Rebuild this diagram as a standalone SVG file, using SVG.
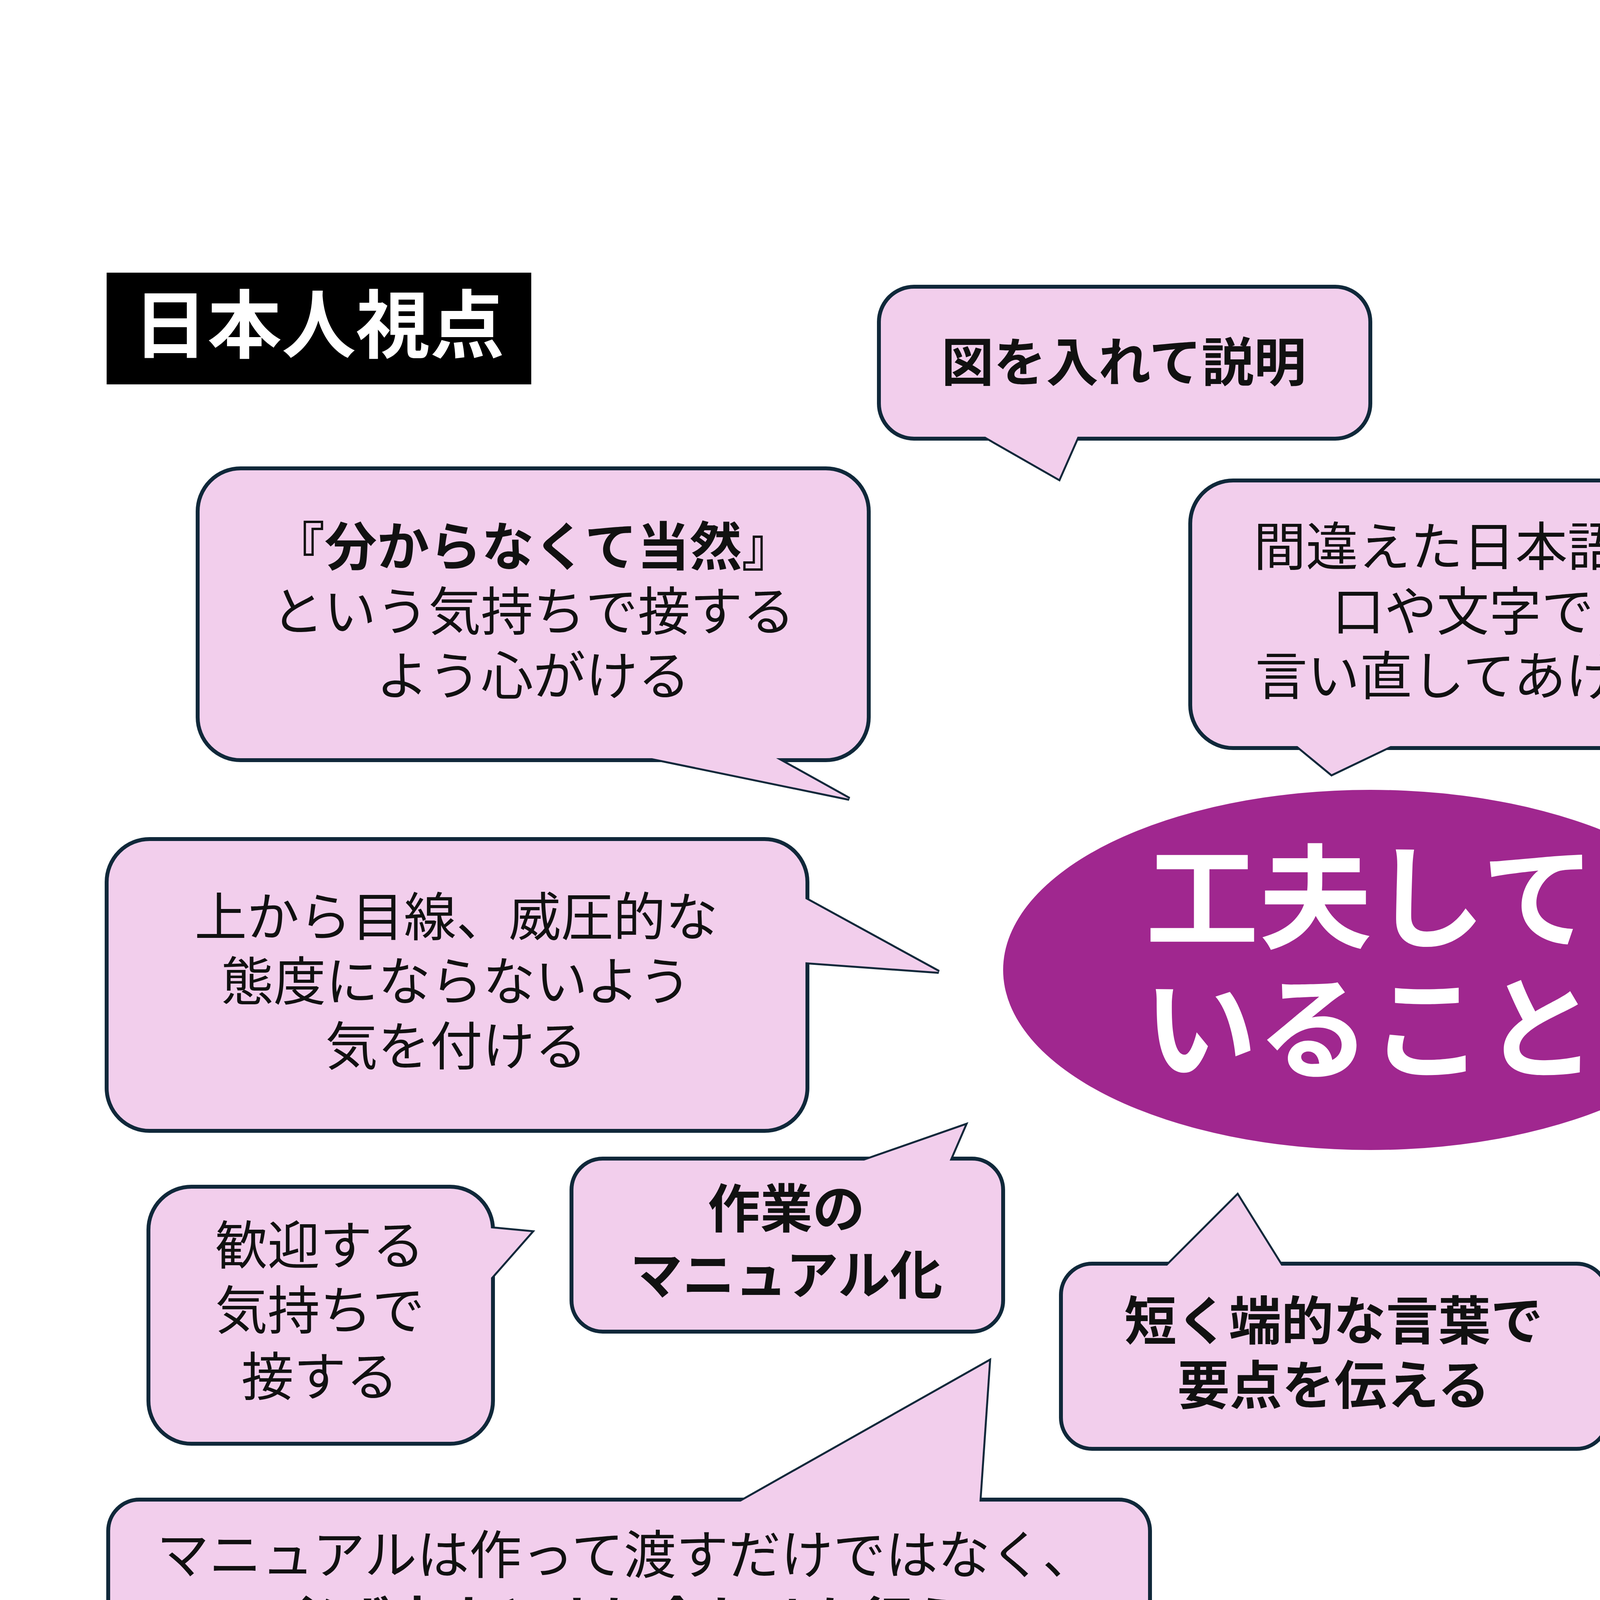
<svg xmlns="http://www.w3.org/2000/svg" width="7015" height="4960" viewBox="0 0 7015 4960">
<style>
.b{fill:#F2CEEC;stroke:#10283A;stroke-width:10}
.t{fill:#F2CEEC;stroke:#10283A;stroke-width:10;stroke-linejoin:miter}
.f{fill:#F2CEEC;stroke:none}
text{font-family:"Noto Sans CJK JP","Noto Sans",sans-serif;fill:#111;text-anchor:middle}
.n{font-size:134px}
.bd{font-size:134px;font-weight:bold}
</style>
<rect width="7015" height="4960" fill="#fff"/>
<g id="title"><rect x="273" y="698" width="1087" height="286" fill="#000"/><text x="816" y="901" style="font-size:190px;font-weight:bold;fill:#fff">日本人視点</text></g>
<g id="center"><ellipse cx="3508" cy="2483" rx="940" ry="461" fill="#A0278F"/><text x="3508" y="2405" style="font-size:290px;font-weight:bold;fill:#fff">工夫して</text><text x="3508" y="2740" style="font-size:290px;font-weight:bold;fill:#fff">いること</text></g>
<g id="zu"><polygon class="t" points="2461,1083 2711,1226 2774,1083"/><rect class="b" x="2250" y="734" width="1258" height="389" rx="90"/><polygon class="f" points="2461,1083 2711,1226 2774,1083"/><text class="bd" x="2877" y="976">図を入れて説明</text></g>
<g id="wakaranakute"><polygon class="t" points="1499,1906 2174,2045 1924,1906"/><rect class="b" x="506" y="1199" width="1718" height="747" rx="110"/><polygon class="f" points="1499,1906 2174,2045 1924,1906"/><text class="bd" x="1365" y="1448">『分からなくて当然』</text><text class="n" x="1365" y="1614">という気持ちで接する</text><text class="n" x="1365" y="1779">よう心がける</text></g>
<g id="machigaeta"><polygon class="t" points="3279,1875 3409,1982 3633,1875"/><rect class="b" x="3047" y="1230" width="1400" height="685" rx="110"/><polygon class="f" points="3279,1875 3409,1982 3633,1875"/><text class="n" x="3745" y="1448">間違えた日本語は</text><text class="n" x="3745" y="1614">口や文字で</text><text class="n" x="3745" y="1779">言い直してあげる</text></g>
<g id="naze"><polygon class="t" points="4921,1378 4810,1575 5467,1378"/><rect class="b" x="4555" y="734" width="2187" height="684" rx="110"/><polygon class="f" points="4921,1378 4810,1575 5467,1378"/><text x="5646" y="961" style="font-size:120px"><tspan font-weight="bold">「なぜ注意・叱られているのか」</tspan>を</text><text x="5646" y="1116" style="font-size:120px">理解してもらうために、</text><text x="5646" y="1264" style="font-size:120px">理由や原因を伝える</text></g>
<g id="chui"><polygon class="t" points="4926,2058 4581,2326 4926,2237"/><rect class="b" x="4886" y="1660" width="1718" height="680" rx="110"/><polygon class="f" points="4926,2058 4581,2326 4926,2237"/><text class="n" x="5740" y="1872">注意する時、悪い点</text><text class="n" x="5740" y="2042">だけではなく、良い点、</text><text class="n" x="5740" y="2208">改善点も伝えている</text></g>
<g id="uekara"><polygon class="t" points="2027,2282 2403,2488 2027,2461"/><rect class="b" x="273" y="2148" width="1794" height="747" rx="110"/><polygon class="f" points="2027,2282 2403,2488 2027,2461"/><text class="n" x="1168" y="2396">上から目線、威圧的な</text><text class="n" x="1168" y="2561">態度にならないよう</text><text class="n" x="1168" y="2727">気を付ける</text></g>
<g id="kanjo"><polygon class="t" points="4921,2662 4555,2559 5467,2662"/><rect class="b" x="4555" y="2622" width="2187" height="684" rx="110"/><polygon class="f" points="4921,2662 4555,2559 5467,2662"/><text x="5646" y="2823" style="font-size:88px">日本人はあまり感情を表現しないから</text><text class="n" x="5646" y="2982">なるべく温かい(心が伝わる)</text><text class="n" x="5646" y="3143">関わり方を心がけている</text></g>
<g id="kangei"><polygon class="t" points="1222,3141 1360,3154 1222,3311"/><rect class="b" x="380" y="3038" width="882" height="658" rx="110"/><polygon class="f" points="1222,3141 1360,3154 1222,3311"/><text class="n" x="819" y="3237">歓迎する</text><text class="n" x="819" y="3403">気持ちで</text><text class="n" x="819" y="3573">接する</text></g>
<g id="sagyo"><polygon class="t" points="2112,3006 2470,2881 2416,3006"/><rect class="b" x="1463" y="2966" width="1105" height="443" rx="80"/><polygon class="f" points="2112,3006 2470,2881 2416,3006"/><text class="bd" x="2013" y="3143">作業の</text><text class="bd" x="2013" y="3313">マニュアル化</text></g>
<g id="mijikaku"><polygon class="t" points="2953,3275 3168,3060 3302,3275"/><rect class="b" x="2716" y="3235" width="1400" height="474" rx="80"/><polygon class="f" points="2953,3275 3168,3060 3302,3275"/><text class="bd" x="3414" y="3430">短く端的な言葉で</text><text class="bd" x="3414" y="3595">要点を伝える</text></g>
<g id="manual"><polygon class="t" points="1834,3879 2532,3485 2505,3879"/><rect class="b" x="277" y="3839" width="2667" height="474" rx="80"/><polygon class="f" points="1834,3879 2532,3485 2505,3879"/><text class="n" x="1602" y="4029">マニュアルは作って渡すだけではなく、</text><text class="bd" x="1602" y="4199">必ず本人とすり合わせを行う</text></g>
<g id="wakarimashita"><polygon class="t" points="4608,3597 4483,3400 5279,3597"/><rect class="b" x="4219" y="3557" width="2246" height="680" rx="110"/><polygon class="f" points="4608,3597 4483,3400 5279,3597"/><text class="n" x="5342" y="3769">「分かりました」だけではなく</text><text class="bd" x="5342" y="3939">「〇〇ということですね」と</text><text class="bd" x="5342" y="4105">確認させている</text></g>
<g id="connectors"></g>
</svg>
